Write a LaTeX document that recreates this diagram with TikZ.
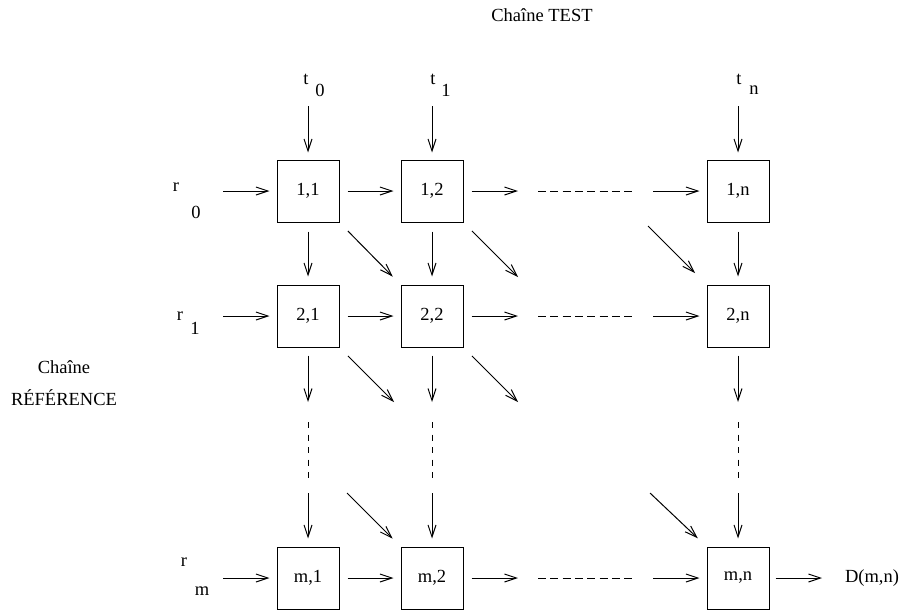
\documentclass[tikz,border=0pt]{standalone}
\usepackage{fontspec}
\setmainfont{Liberation Serif}
\usetikzlibrary{arrows.meta}
\begin{document}
\begin{tikzpicture}[x=1pt,y=-1pt,
  font=\fontsize{18.5}{22}\selectfont,
  line width=1pt,
  cell/.style={draw, minimum width=62pt, minimum height=62pt, inner sep=0pt},
  lbl/.style={inner sep=0pt},
  arr/.style={-{Straight Barb[length=12pt,width=8pt,line width=1pt]}},
  hdash/.style={dash pattern=on 8pt off 4.3pt},
  vdash/.style={dash pattern=on 6pt off 6.5pt}]
\useasboundingbox (0,0) rectangle (905,614);

% titles
\node[lbl] (test) at (542,15) {Chaîne TEST};
\node[lbl] (refa) at (64,367) {Chaîne};
\node[lbl] (refb) at (64,398) {RÉFÉRENCE};

% grid of cells
\node[cell] (b11) at (308,191) {1,1};
\node[cell] (b12) at (432,191) {1,2};
\node[cell] (b1n) at (738,191) {1,n};
\node[cell] (b21) at (308,316) {2,1};
\node[cell] (b22) at (432,316) {2,2};
\node[cell] (b2n) at (738,316) {2,n};
\node[cell] (bm1) at (308,578) {m,1};
\node[cell] (bm2) at (432,578) {m,2};
\node[cell] (bmn) at (738,578) {m,n};

% test chain symbols
\node[lbl] (t0) at (306,79) {t};  \node[lbl] (t0s) at (320,90) {0};
\node[lbl] (t1) at (433,79) {t};  \node[lbl] (t1s) at (446,90) {1};
\node[lbl] (tn) at (739,79) {t};  \node[lbl] (tns) at (754,90) {n};

% reference chain symbols
\node[lbl] (r0) at (176,187) {r}; \node[lbl] (r0s) at (196,212) {0};
\node[lbl] (r1) at (180,316) {r}; \node[lbl] (r1s) at (195,328) {1};
\node[lbl] (rm) at (184,562) {r}; \node[lbl] (rms) at (202,591) {m};

\node[lbl] (dist) at (872,578) {D(m,n)};

% free ends of connectors
\coordinate (ta0) at (308,106);
\coordinate (ta1) at (432,106);
\coordinate (tan) at (738,106);
\coordinate (ra0) at (223,191);
\coordinate (ra1) at (223,316);
\coordinate (ram) at (223,578);
\coordinate (h1) at (518,191);
\coordinate (h2) at (518,316);
\coordinate (hm) at (518,578);
\coordinate (e1) at (653,191);
\coordinate (e2) at (653,316);
\coordinate (em) at (653,578);
\coordinate (g12) at (518,277);
\coordinate (f2n) at (648,226);
\coordinate (v21) at (308,402);
\coordinate (v22) at (432,402);
\coordinate (v2n) at (738,402);
\coordinate (g21) at (394,402);
\coordinate (g22) at (518,402);
\coordinate (u1) at (308,493);
\coordinate (u2) at (432,493);
\coordinate (un) at (738,493);
\coordinate (q2) at (347,493);
\coordinate (qn) at (650,493);
\coordinate (out) at (822,578);

% inputs from the test chain
\draw[arr, shorten >=7pt] (ta0) -- (b11);
\draw[arr, shorten >=7pt] (ta1) -- (b12);
\draw[arr, shorten >=7pt] (tan) -- (b1n);

% inputs from the reference chain
\draw[arr, shorten >=7pt] (ra0) -- (b11);
\draw[arr, shorten >=7pt] (ra1) -- (b21);
\draw[arr, shorten >=7pt] (ram) -- (bm1);

% horizontal links
\draw[arr, shorten <=8pt, shorten >=7pt] (b11) -- (b12);
\draw[arr, shorten <=8pt, shorten >=7pt] (b21) -- (b22);
\draw[arr, shorten <=8pt, shorten >=7pt] (bm1) -- (bm2);
\draw[arr, shorten <=8pt] (b12) -- (h1);
\draw[arr, shorten <=8pt] (b22) -- (h2);
\draw[arr, shorten <=8pt] (bm2) -- (hm);
\draw[hdash] (538,191) -- (632,191);
\draw[hdash] (538,316) -- (632,316);
\draw[hdash] (538,578) -- (632,578);
\draw[arr, shorten >=7pt] (e1) -- (b1n);
\draw[arr, shorten >=7pt] (e2) -- (b2n);
\draw[arr, shorten >=7pt] (em) -- (bmn);
\draw[arr, shorten <=6pt] (bmn) -- (out);

% vertical links
\draw[arr, shorten <=9pt, shorten >=8pt] (b11) -- (b21);
\draw[arr, shorten <=9pt, shorten >=8pt] (b12) -- (b22);
\draw[arr, shorten <=9pt, shorten >=8pt] (b1n) -- (b2n);
\draw[arr, shorten <=8pt] (b21) -- (v21);
\draw[arr, shorten <=8pt] (b22) -- (v22);
\draw[arr, shorten <=8pt] (b2n) -- (v2n);
\draw[vdash] (308,422) -- (308,478);
\draw[vdash] (432,422) -- (432,478);
\draw[vdash] (738,422) -- (738,478);
\draw[arr, shorten >=8pt] (u1) -- (bm1);
\draw[arr, shorten >=8pt] (u2) -- (bm2);
\draw[arr, shorten >=8pt] (un) -- (bmn);

% diagonal links
\draw[arr, shorten <=12pt, shorten >=11pt] (b11.south east) -- (b22.north west);
\draw[arr, shorten <=12pt] (b12.south east) -- (g12);
\draw[arr, shorten >=16pt] (f2n) -- (b2n.north west);
\draw[arr, shorten <=12pt] (b21.south east) -- (g21);
\draw[arr, shorten <=12pt] (b22.south east) -- (g22);
\draw[arr, shorten >=11pt] (q2) -- (bm2.north west);
\draw[arr, shorten >=12pt] (qn) -- (bmn.north west);
\end{tikzpicture}
\end{document}
